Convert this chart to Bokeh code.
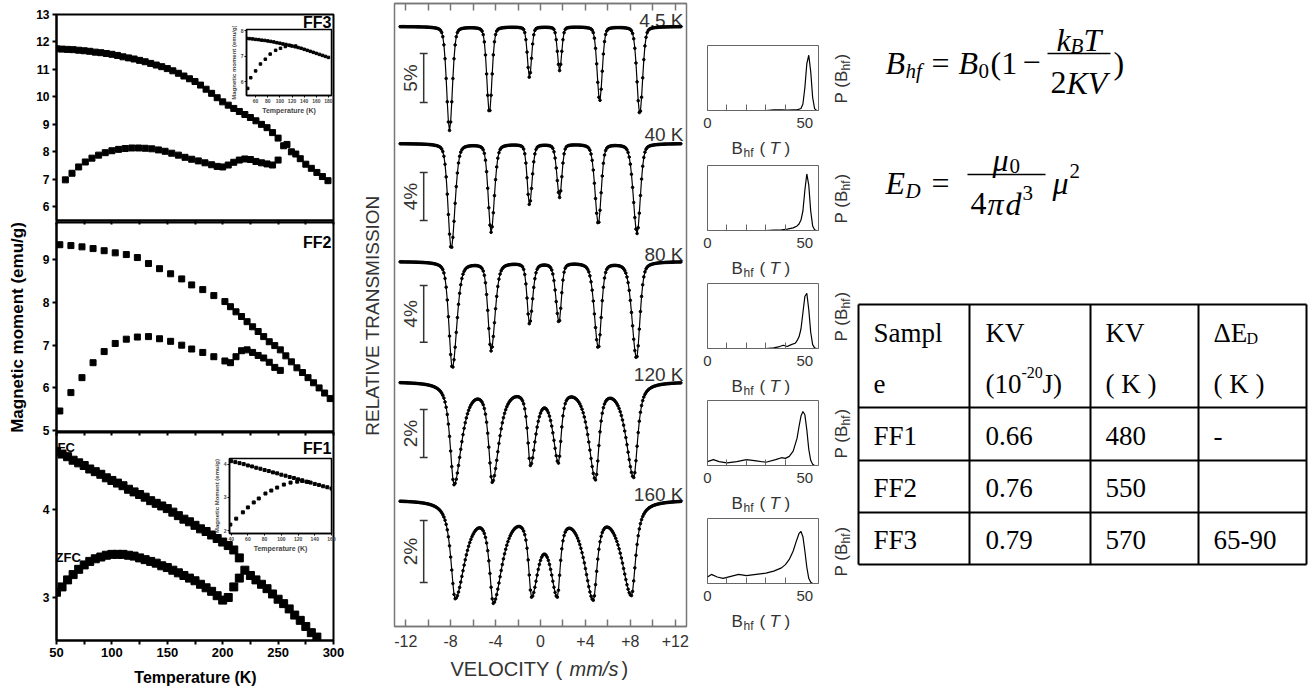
import numpy as np
from bokeh.plotting import figure
from bokeh.models import Range1d, FixedTicker, LinearAxis, Column
from bokeh.embed import file_html
from bokeh.resources import INLINE
from bokeh.core.properties import value

W, H = 1313, 690

# ===================== DATA =====================
T_MAJOR = [50, 100, 150, 200, 250, 300]
T_MINOR = [75, 125, 175, 225, 275]
T_ALL = [50, 75, 100, 125, 150, 175, 200, 225, 250, 275, 300]

# FF3 main panel
FF3_FC_T = [50, 55, 60, 65, 70, 75, 80, 85, 90, 95, 100, 105, 110, 115, 120, 125, 130, 135, 140, 145,
            150, 155, 160, 165, 170, 175, 180, 185, 190, 195, 200, 205, 210, 215, 220, 225, 230, 235, 240, 245,
            250, 255, 258, 262, 266, 270, 275, 280, 285, 290, 295]
FF3_FC_M = [11.75, 11.74, 11.73, 11.72, 11.70, 11.68, 11.66, 11.63, 11.61, 11.58, 11.55, 11.51, 11.46, 11.42, 11.38, 11.33, 11.28, 11.22, 11.16, 11.10,
            11.03, 10.95, 10.86, 10.76, 10.66, 10.56, 10.43, 10.28, 10.13, 9.97, 9.82, 9.70, 9.58, 9.47, 9.36, 9.25, 9.13, 9.00, 8.88, 8.70,
            8.50, 8.22, 8.27, 8.00, 7.92, 7.75, 7.55, 7.40, 7.25, 7.10, 6.95]
FF3_ZFC_T = [58, 64, 70, 76, 82, 88, 94, 100, 106, 112, 118, 124, 130, 136, 142, 148, 154, 160, 166, 172,
             178, 184, 190, 195, 200, 205, 210, 215, 220, 225, 230, 235, 240, 245, 250]
FF3_ZFC_M = [6.98, 7.22, 7.45, 7.63, 7.77, 7.88, 7.97, 8.04, 8.09, 8.12, 8.14, 8.14, 8.13, 8.11, 8.07, 8.02, 7.95, 7.88, 7.80, 7.73,
             7.67, 7.60, 7.53, 7.47, 7.45, 7.52, 7.62, 7.70, 7.74, 7.72, 7.65, 7.60, 7.56, 7.52, 7.70]

# FF3 inset
INS3_UP_T = [45, 50, 55, 60, 65, 70, 75, 80, 85, 90, 95, 100, 105, 110, 115, 120, 125, 130, 135, 140, 145, 150, 155, 160, 165, 170, 175, 180]
INS3_UP_M = [7.70, 7.69, 7.68, 7.66, 7.65, 7.63, 7.62, 7.60, 7.58, 7.56, 7.53, 7.51, 7.48, 7.46, 7.43, 7.40, 7.37, 7.34, 7.31, 7.27, 7.23, 7.19, 7.15, 7.11, 7.07, 7.03, 6.99, 6.95]
INS3_LO_T = [47, 52, 60, 68, 76, 84, 93, 101, 109, 117, 126]
INS3_LO_M = [5.73, 6.15, 6.42, 6.69, 6.88, 7.08, 7.23, 7.31, 7.38, 7.42, 7.40]

# FF2 main panel
FF2_FC_T = [53, 63, 73, 83, 93, 103, 113, 123, 133, 143, 153, 163, 172, 182, 192, 202, 207, 212, 217, 222,
            227, 232, 237, 242, 247, 252, 257, 262, 267, 272, 277, 282, 287, 292, 297]
FF2_FC_M = [9.35, 9.33, 9.30, 9.26, 9.21, 9.16, 9.12, 9.05, 8.91, 8.79, 8.67, 8.55, 8.41, 8.30, 8.16, 8.02, 7.90, 7.78, 7.67, 7.55,
            7.43, 7.32, 7.20, 7.08, 6.99, 6.89, 6.75, 6.61, 6.47, 6.36, 6.24, 6.12, 6.00, 5.88, 5.75]
FF2_ZFC_T = [53, 63, 73, 83, 93, 103, 113, 123, 133, 143, 153, 163, 172, 182, 192, 202, 207, 212, 217, 222,
             227, 232, 237, 242, 247, 252]
FF2_ZFC_M = [5.46, 5.89, 6.24, 6.59, 6.85, 7.04, 7.14, 7.19, 7.20, 7.15, 7.09, 7.00, 6.91, 6.83, 6.73, 6.63, 6.59, 6.73, 6.87, 6.89,
             6.83, 6.76, 6.70, 6.60, 6.48, 6.41]

# FF1 main panel
FF1_FC_T = [50, 55, 60, 65, 70, 75, 80, 85, 90, 95, 100, 105, 110, 115, 120, 125, 130, 135, 140, 145,
            150, 155, 160, 165, 170, 175, 180, 185, 190, 195, 200, 205, 210, 215, 220, 225, 230, 235, 240, 245,
            250, 255, 260, 265, 270, 275, 280, 285]
FF1_FC_M = [4.66, 4.63, 4.60, 4.56, 4.53, 4.50, 4.46, 4.43, 4.40, 4.36, 4.33, 4.30, 4.27, 4.23, 4.20, 4.17, 4.14, 4.10, 4.07, 4.04,
            4.01, 3.97, 3.93, 3.89, 3.86, 3.82, 3.78, 3.75, 3.71, 3.67, 3.63, 3.59, 3.54, 3.45, 3.31, 3.25, 3.20, 3.15, 3.10, 3.04,
            2.98, 2.93, 2.87, 2.80, 2.74, 2.67, 2.60, 2.55]
FF1_ZFC_T = [50, 55, 60, 65, 70, 75, 80, 85, 90, 95, 100, 105, 110, 115, 120, 125, 130, 135, 140, 145,
             150, 155, 160, 165, 170, 175, 180, 185, 190, 195, 200, 205, 210, 215]
FF1_ZFC_M = [3.06, 3.12, 3.20, 3.26, 3.32, 3.37, 3.41, 3.44, 3.46, 3.48, 3.49, 3.49, 3.49, 3.48, 3.47, 3.45, 3.43, 3.41, 3.39, 3.36,
             3.34, 3.31, 3.28, 3.25, 3.22, 3.19, 3.15, 3.11, 3.07, 3.02, 2.97, 3.00, 3.12, 3.22]

# FF1 inset
INS1_UP_T = [40, 45, 50, 55, 60, 65, 70, 75, 80, 85, 90, 95, 100, 105, 110, 115, 120, 125, 130, 135, 140, 145, 150, 155, 160]
INS1_UP_M = [4.10, 4.07, 4.04, 4.01, 3.97, 3.94, 3.90, 3.87, 3.83, 3.80, 3.76, 3.73, 3.69, 3.66, 3.62, 3.59, 3.55, 3.52, 3.48, 3.45, 3.41, 3.38, 3.34, 3.31, 3.27]
INS1_LO_T = [39, 46, 54, 60, 67, 73, 81, 88, 95, 103, 111, 119, 125, 132]
INS1_LO_M = [2.18, 2.36, 2.55, 2.70, 2.85, 2.97, 3.12, 3.21, 3.30, 3.39, 3.45, 3.48, 3.50, 3.47]

# Moessbauer spectra: line positions (mm/s), observed dip depths (%), outer half widths (mm/s)
SPEC_TEMPS = ["4.5 K", "40 K", "80 K", "120 K", "160 K"]
SCALE_PCT = [5, 4, 4, 2, 2]
PEAK_POS = [[-8.10, -4.55, -0.98, 1.70, 5.27, 8.84],
            [-7.95, -4.40, -0.98, 1.70, 5.15, 8.60],
            [-7.85, -4.40, -0.98, 1.65, 5.15, 8.55],
            [-7.70, -4.30, -0.90, 1.60, 4.90, 8.30],
            [-7.60, -4.20, -0.80, 1.50, 4.70, 8.10]]
PEAK_DEPTH = [[10.6, 8.8, 5.2, 4.5, 7.6, 8.9],
              [8.75, 7.4, 5.1, 4.5, 6.7, 7.5],
              [7.5, 6.3, 4.4, 4.3, 6.1, 6.8],
              [4.3, 4.2, 3.5, 3.4, 4.1, 4.0],
              [3.2, 3.35, 3.15, 3.15, 3.25, 3.1]]
HW_OUT = [[0.30, 0.27, 0.22, 0.22, 0.27, 0.30],
          [0.34, 0.30, 0.24, 0.24, 0.30, 0.34],
          [0.36, 0.32, 0.25, 0.25, 0.32, 0.36],
          [0.42, 0.38, 0.30, 0.30, 0.38, 0.42],
          [0.46, 0.42, 0.32, 0.32, 0.42, 0.46]]
INNER_FACTOR = [1.0, 1.15, 1.3, 1.9, 2.3]
LORENTZ_FRACTION = [0.25, 0.3, 0.4, 0.8, 0.9]
VEL_MAJOR = [-12, -8, -4, 0, 4, 8, 12]
VEL_MINOR = [-10, -6, -2, 2, 6, 10]
VEL_ALL = [-12, -10, -8, -6, -4, -2, 0, 2, 4, 6, 8, 10, 12]
VEL_LABELS = {-12: "-12", -8: "-8", -4: "-4", 0: "0", 4: "+4", 8: "+8", 12: "+12"}

# Hyperfine field distributions P(Bhf)
PB_B = [[0, 5, 10, 15, 20, 25, 30, 34, 38, 41, 44, 46, 48, 49, 50, 51, 52, 53, 54, 55, 56],
        [0, 5, 10, 15, 20, 25, 30, 34, 38, 41, 44, 46, 47, 48, 49, 50, 51, 52, 53, 54, 55, 56],
        [0, 5, 10, 15, 20, 25, 30, 34, 37, 39, 41, 43, 45, 46, 47, 48, 49, 50, 51, 52, 53, 54, 55, 56],
        [0, 3, 6, 10, 15, 20, 25, 30, 35, 38, 40, 42, 44, 46, 47, 48, 49, 50, 51, 52, 53, 54, 55, 56],
        [0, 2, 5, 8, 12, 16, 20, 25, 30, 34, 38, 40, 42, 44, 45.5, 47, 48, 49, 50, 51, 52, 53, 54, 56]]
PB_P = [[0, 0, 0, 0, 0, 0, 0, 0.01, 0.01, 0.005, 0.01, 0.01, 0.03, 0.1, 0.35, 0.72, 0.85, 0.6, 0.2, 0.03, 0],
        [0, 0, 0, 0, 0, 0, 0, 0.005, 0.01, 0.02, 0.04, 0.07, 0.1, 0.16, 0.3, 0.62, 0.87, 0.7, 0.3, 0.07, 0.01, 0],
        [0, 0, 0, 0, 0, 0, 0, 0.01, 0.03, 0.05, 0.03, 0.06, 0.08, 0.12, 0.18, 0.3, 0.55, 0.8, 0.85, 0.6, 0.25, 0.06, 0.01, 0],
        [0.06, 0.09, 0.06, 0.04, 0.06, 0.09, 0.07, 0.05, 0.09, 0.12, 0.11, 0.14, 0.22, 0.42, 0.6, 0.76, 0.83, 0.78, 0.55, 0.25, 0.08, 0.02, 0, 0],
        [0.1, 0.14, 0.1, 0.08, 0.11, 0.14, 0.12, 0.14, 0.16, 0.19, 0.24, 0.29, 0.37, 0.5, 0.64, 0.77, 0.8, 0.72, 0.5, 0.25, 0.08, 0.02, 0, 0]]
PB_MAJOR = [0, 50]
PB_MINOR = [10, 20, 30, 40]

# Table
TAB_SAMPLE = ["FF1", "FF2", "FF3"]
TAB_KV_J = ["0.66", "0.76", "0.79"]
TAB_KV_K = ["480", "550", "570"]
TAB_DED = ["-", "", "65-90"]

# ===================== LAYOUT HELPERS =====================
children = []
BL, BR = 70, 12   # uniform left/right borders for the data figures


def place(p, left, top):
    p.styles = {"position": "absolute", "left": f"{left}px", "top": f"{top}px",
                "margin": "0px", "max-width": "none"}
    if "frame_align" in p.properties():
        p.frame_align = False
    children.append(p)


def new_fig(fx0, fy0, fx1, fy1, xr, yr, T, B, L=BL, R=BR, **kw):
    p = figure(width=fx1 - fx0 + L + R, height=fy1 - fy0 + T + B, x_range=xr, y_range=yr,
               min_border_left=L, min_border_right=R, min_border_top=T, min_border_bottom=B,
               output_backend="svg", toolbar_location=None, **kw)
    p.background_fill_alpha = 0
    p.border_fill_alpha = 0
    p.grid.visible = False
    place(p, fx0 - L, fy0 - T)
    return p


# full-page canvas for free text (behind everything)
canvas = new_fig(0, 0, W, H, Range1d(0, W), Range1d(H, 0), 0, 0, L=0, R=0,
                 x_axis_location=None, y_axis_location=None)
canvas.outline_line_color = None


def ctext(x, y, s, size=16, font="Liberation Sans", style="normal", align="left",
          baseline="alphabetic", angle=0.0, color="#000000"):
    canvas.text(x=[x], y=[y], text=[s], text_font=value(font), text_font_size=f"{size}px",
                text_font_style=style, text_align=align, text_baseline=baseline, angle=angle,
                text_color=color)


# ===================== MAGNETIZATION PANELS =====================
FX0, FX1 = 56, 333


def mag_panel(fy0, fy1, y0, y1, yticks, with_labels):
    B = 52 if with_labels else 14
    p = new_fig(FX0, fy0, FX1, fy1, Range1d(50, 300), Range1d(y0, y1), 6, B)
    for ax in p.axis:
        ax.axis_line_width = 2
        ax.major_tick_line_width = 2
        ax.minor_tick_line_width = 2
        ax.major_tick_in = 0
        ax.major_tick_out = 4
        ax.minor_tick_in = 0
        ax.minor_tick_out = 4
        ax.major_label_text_font = "Liberation Sans"
        ax.major_label_text_font_style = "bold"
        ax.major_label_text_color = "black"
    p.yaxis.ticker = FixedTicker(ticks=yticks, minor_ticks=[])
    p.yaxis.major_label_text_font_size = "12px"
    p.yaxis.major_label_standoff = 3
    if with_labels:
        p.xaxis.ticker = FixedTicker(ticks=T_MAJOR, minor_ticks=T_MINOR)
        p.xaxis.major_label_text_font_size = "13px"
        p.xaxis.major_label_standoff = 3
    else:
        p.xaxis.ticker = FixedTicker(ticks=[], minor_ticks=T_ALL)
    p.outline_line_color = "black"
    p.outline_line_width = 2
    return p


ff3 = mag_panel(14, 220, 5.5, 13.0, [6, 7, 8, 9, 10, 11, 12, 13], False)
ff3.scatter(FF3_FC_T, FF3_FC_M, marker="square", size=6, color="black")
ff3.scatter(FF3_ZFC_T, FF3_ZFC_M, marker="square", size=6, color="black")

ff2 = mag_panel(222, 431, 4.98, 9.87, [5, 6, 7, 8, 9], False)
ff2.scatter(FF2_FC_T, FF2_FC_M, marker="square", size=6, color="black")
ff2.scatter(FF2_ZFC_T, FF2_ZFC_M, marker="square", size=6, color="black")

ff1 = mag_panel(432, 640, 2.511, 4.875, [3, 4], True)
ff1.scatter(FF1_FC_T, FF1_FC_M, marker="square", size=8, color="black")
ff1.scatter(FF1_ZFC_T, FF1_ZFC_M, marker="square", size=8, color="black")


def inset(fx0, fy0, fx1, fy1, xr, yr, xticks, yticks, ylabel):
    p = new_fig(fx0, fy0, fx1, fy1, xr, yr, 3, 26)
    p.background_fill_color = "white"
    p.background_fill_alpha = 1
    for ax in p.axis:
        ax.axis_line_width = 1.5
        ax.major_tick_line_width = 1
        ax.major_tick_in = 0
        ax.major_tick_out = 2
        ax.minor_tick_line_color = None
        ax.major_label_text_font = "Liberation Sans"
        ax.major_label_text_font_style = "bold"
        ax.major_label_text_font_size = "5px"
        ax.major_label_standoff = 1
        ax.axis_label_text_font = "Liberation Sans"
        ax.axis_label_text_font_style = "bold"
        ax.axis_label_standoff = 1
    p.xaxis.ticker = FixedTicker(ticks=xticks)
    p.yaxis.ticker = FixedTicker(ticks=yticks)
    p.xaxis.axis_label = "Temperature (K)"
    p.xaxis.axis_label_text_font_size = "7px"
    p.yaxis.axis_label = ylabel
    p.yaxis.axis_label_text_font_size = "6px"
    p.outline_line_color = "black"
    p.outline_line_width = 1.5
    return p


ins3 = inset(246, 29, 331, 95, Range1d(45, 185), Range1d(5.45, 8.05),
             [60, 80, 100, 120, 140, 160, 180], [6, 7, 8], "Magnetic moment (emu/g)")
ins3.scatter(INS3_UP_T, INS3_UP_M, marker="square", size=2.5, color="black")
ins3.scatter(INS3_LO_T, INS3_LO_M, marker="square", size=2.5, color="black")

ins1 = inset(229, 458, 331, 533, Range1d(38, 160), Range1d(1.91, 4.18),
             [40, 60, 80, 100, 120, 140, 160], [2, 3, 4], "Magnetic Moment (emu/g)")
ins1.scatter(INS1_UP_T, INS1_UP_M, marker="square", size=3, color="black")
ins1.scatter(INS1_LO_T, INS1_LO_M, marker="square", size=3, color="black")

# ===================== MOESSBAUER SPECTRA =====================
GRAY = "#777777"
BASE_PX = [26, 143, 261, 381, 499]       # baseline of each spectrum (vertical layout, px)
PX_PER_PCT = [9.8, 12.0, 14.2, 24.0, 31.0]
BAR_TOP = [53, 172, 285, 409, 520]
TLABEL_Y = [20, 134, 254, 374, 494]

moss = new_fig(394, 3, 686, 626, Range1d(-13, 13), Range1d(626, 3), 12, 40, y_axis_location=None)
bottom_axis = moss.below[0]
bottom_axis.ticker = FixedTicker(ticks=VEL_MAJOR, minor_ticks=VEL_MINOR)
bottom_axis.major_label_overrides = VEL_LABELS
top_axis = LinearAxis(ticker=FixedTicker(ticks=[], minor_ticks=VEL_ALL))
moss.add_layout(top_axis, "above")
for ax in (bottom_axis, top_axis):
    ax.axis_line_color = GRAY
    ax.axis_line_width = 1.5
    ax.major_tick_line_color = GRAY
    ax.major_tick_line_width = 1.5
    ax.minor_tick_line_color = GRAY
    ax.minor_tick_line_width = 1.5
    ax.major_tick_in = 7
    ax.major_tick_out = 0
    ax.minor_tick_in = 7
    ax.minor_tick_out = 0
bottom_axis.major_label_text_font = "Liberation Sans"
bottom_axis.major_label_text_font_size = "16px"
bottom_axis.major_label_text_color = "#333333"
bottom_axis.major_label_standoff = 8
moss.outline_line_color = GRAY
moss.outline_line_width = 1.5


def profile(v, p, g_out, g_in, center, eta):
    outer = (v - p) * np.sign(p - center) > 0
    g = np.where(outer, g_out, g_in)
    u = (v - p) / g
    return eta / (1 + u * u) + (1 - eta) * np.exp(-np.log(2) * u * u)


V = np.arange(-12.5, 12.51, 0.1)
for k in range(5):
    pos = np.array(PEAK_POS[k])
    dep = np.array(PEAK_DEPTH[k])
    g_out = np.array(HW_OUT[k])
    g_in = g_out * INNER_FACTOR[k]
    c = pos.mean()
    eta = LORENTZ_FRACTION[k]
    M = np.array([[profile(np.array([pos[i]]), pos[j], g_out[j], g_in[j], c, eta)[0] for j in range(6)] for i in range(6)])
    amp = np.linalg.solve(M, dep)
    dip = sum(amp[j] * profile(V, pos[j], g_out[j], g_in[j], c, eta) for j in range(6))
    y = BASE_PX[k] + dip * PX_PER_PCT[k]
    moss.line(V, y, color="black", line_width=1.2)
    moss.scatter(V, y, marker="circle", size=2.6, color="black")
    # scale bar
    y0 = BAR_TOP[k]
    y1 = BAR_TOP[k] + SCALE_PCT[k] * PX_PER_PCT[k]
    moss.segment(x0=[-10.4, -10.75, -10.75], y0=[y0, y0, y1], x1=[-10.4, -10.05, -10.05], y1=[y1, y0, y1],
                 color="#333333", line_width=1.5)
    ctext(410, (y0 + y1) / 2, f"{SCALE_PCT[k]}%", size=19, align="center", baseline="middle",
          angle=np.pi / 2, color="#333333")
    ctext(683, TLABEL_Y[k], SPEC_TEMPS[k], size=19, align="right", color="#333333")

ctext(372, 315, "RELATIVE TRANSMISSION", size=19, align="center", baseline="middle", angle=np.pi / 2, color="#333333")
ctext(450, 668, "VELOCITY", size=20, color="#333333")
ctext(555, 668, "(", size=20, color="#333333")
ctext(569, 668, "mm/s", size=20, style="italic", color="#333333")
ctext(621, 668, ")", size=20, color="#333333")

# ===================== P(Bhf) PANELS =====================
PB_TOPS = [45, 165, 283, 400, 518]
for k in range(5):
    top = PB_TOPS[k]
    p = new_fig(707, top, 818, top + 65, Range1d(0, 57), Range1d(0, 1), 2, 36, y_axis_location=None)
    ax = p.below[0]
    ax.ticker = FixedTicker(ticks=PB_MAJOR, minor_ticks=PB_MINOR)
    ax.axis_line_color = "#666666"
    ax.major_tick_line_color = "#666666"
    ax.minor_tick_line_color = "#666666"
    ax.major_tick_in = 0
    ax.major_tick_out = 0
    ax.minor_tick_in = 6
    ax.minor_tick_out = 0
    ax.major_label_text_font = "Liberation Sans"
    ax.major_label_text_font_size = "15px"
    ax.major_label_text_color = "#333333"
    ax.major_label_standoff = 7
    p.outline_line_color = "#666666"
    p.outline_line_width = 1
    p.line(PB_B[k], PB_P[k], color="black", line_width=1.2)
    # axis titles
    yb = top + 103
    ctext(731, yb, "B", size=17, color="#333333")
    ctext(743, yb + 4, "hf", size=12, color="#333333")
    ctext(759, yb, "(", size=17, color="#333333")
    ctext(769, yb, "T", size=17, style="italic", color="#333333")
    ctext(784, yb, ")", size=17, color="#333333")
    ym = top + 58
    ctext(841, ym, "P (B", size=17, angle=np.pi / 2, color="#333333")
    ctext(845, ym - 33, "hf", size=12, angle=np.pi / 2, color="#333333")
    ctext(841, ym - 44, ")", size=17, angle=np.pi / 2, color="#333333")

# ===================== LEFT COLUMN TEXT =====================
ctext(17, 327, "Magnetic moment (emu/g)", size=17, style="bold", align="center", baseline="middle", angle=np.pi / 2)
ctext(195, 677, "Temperature (K)", size=16, style="bold", align="center", baseline="middle")
ctext(331, 22, "FF3", size=16, style="bold", align="right", baseline="middle")
ctext(331, 242, "FF2", size=16, style="bold", align="right", baseline="middle")
ctext(331, 448, "FF1", size=16, style="bold", align="right", baseline="middle")
ctext(57, 447, "FC", size=13, style="bold", baseline="middle")
ctext(55, 557, "ZFC", size=13, style="bold", baseline="middle")

# ===================== EQUATIONS =====================
SER = "Liberation Serif"
ctext(885, 62, "B", 32, SER, "italic")
ctext(905, 70, "hf", 21, SER, "italic")
ctext(931, 62, "=", 32, SER)
ctext(958, 62, "B", 32, SER, "italic")
ctext(978, 70, "0", 21, SER)
ctext(990, 62, "(1", 32, SER)
ctext(1022, 62, "\u2212", 32, SER)
canvas.segment(x0=[1047], y0=[53], x1=[1110], y1=[53], color="black", line_width=1.5)
ctext(1056, 39, "k", 32, SER, "italic")
ctext(1070, 45, "B", 21, SER, "italic")
ctext(1083, 39, "T", 32, SER, "italic")
ctext(1050, 82, "2", 32, SER)
ctext(1066, 82, "KV", 32, SER, "italic")
ctext(1113, 62, ")", 32, SER)

ctext(885, 182, "E", 32, SER, "italic")
ctext(905, 190, "D", 21, SER, "italic")
ctext(931, 182, "=", 32, SER)
canvas.segment(x0=[967], y0=[174], x1=[1045], y1=[174], color="black", line_width=1.5)
ctext(992, 159, "\u03bc", 32, SER, "italic")
ctext(1009, 165, "0", 21, SER)
ctext(970, 203, "4", 32, SER)
ctext(987, 203, "\u03c0", 32, SER, "italic")
ctext(1005, 203, "d", 32, SER, "italic")
ctext(1022, 192, "3", 21, SER)
ctext(1052, 182, "\u03bc", 32, SER, "italic")
ctext(1069, 170, "2", 21, SER)

# ===================== TABLE =====================
COL_X = [858, 969, 1090, 1198, 1306]
ROW_Y = [304, 407, 460, 512, 564]
canvas.segment(x0=[COL_X[0]] * 5, y0=ROW_Y, x1=[COL_X[-1]] * 5, y1=ROW_Y, color="black", line_width=2)
canvas.segment(x0=COL_X, y0=[ROW_Y[0]] * 5, x1=COL_X, y1=[ROW_Y[-1]] * 5, color="black", line_width=2)
TX = [873, 985, 1105, 1213]
FS = 27
ctext(TX[0], 332, "Sampl", FS, SER)
ctext(TX[0], 383, "e", FS, SER)
ctext(TX[1], 332, "KV", FS, SER)
ctext(TX[1], 383, "(10", FS, SER)
ctext(1021, 372, "-20", 16, SER)
ctext(1042, 383, "J)", FS, SER)
ctext(TX[2], 332, "KV", FS, SER)
ctext(TX[2], 383, "( K )", FS, SER)
ctext(TX[3], 332, "\u0394E", FS, SER)
ctext(1246, 338, "D", 16, SER)
ctext(TX[3], 383, "( K )", FS, SER)
ROW_BASE = [435, 487, 539]
for i in range(3):
    ctext(TX[0], ROW_BASE[i], TAB_SAMPLE[i], FS, SER)
    ctext(TX[1], ROW_BASE[i], TAB_KV_J[i], FS, SER)
    ctext(TX[2], ROW_BASE[i], TAB_KV_K[i], FS, SER)
    if TAB_DED[i]:
        ctext(TX[3], ROW_BASE[i], TAB_DED[i], FS, SER)

root = Column(children=children, width=W, height=H,
              styles={"position": "relative", "margin": "0px", "overflow": "hidden"})
open("out.html", "w").write(file_html(root, INLINE))
